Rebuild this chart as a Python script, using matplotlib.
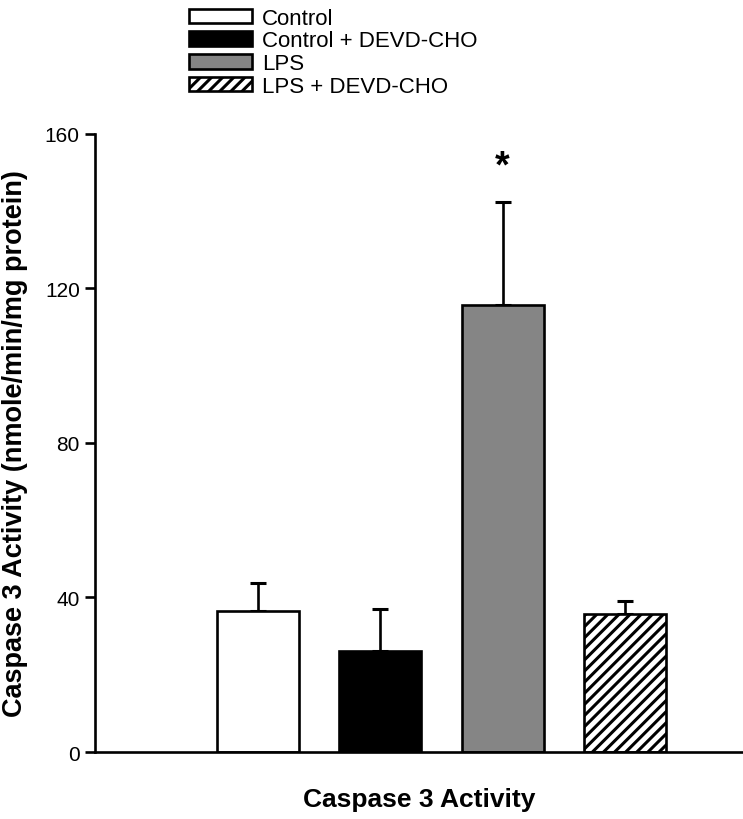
import matplotlib.pyplot as plt
import matplotlib.patches as mpatches

plt.rcParams['font.family'] = ['Liberation Sans', 'DejaVu Sans']
plt.rcParams['hatch.linewidth'] = 2.2

# dados
grupos = ["Control", "Control + DEVD-CHO", "LPS", "LPS + DEVD-CHO"]
medias = [36.6, 26.1, 115.6, 35.6]
erros = [7.2, 11.0, 26.9, 3.5]
cores = ["white", "black", "#858585", "white"]
hachuras = [None, None, None, "///"]
yticks = [0, 40, 80, 120, 160]

fig = plt.figure(figsize=(7.43, 8.2), dpi=100)
ax = fig.add_axes([0.128, 0.0817, 0.872, 0.7537])

x = list(range(len(grupos)))
barras = ax.bar(x, medias, width=0.67, color=cores, edgecolor="black",
                linewidth=1.9, zorder=2)
for b, h in zip(barras, hachuras):
    if h:
        b.set_hatch(h)

ax.errorbar(x, medias, yerr=[[0] * len(erros), erros], fmt="none",
            ecolor="black", elinewidth=1.9, capsize=5.5, capthick=2.2, zorder=1)

# asterisco sobre LPS
ax.text(2, medias[2] + erros[2] + 9, "*", ha="center", va="center",
        fontsize=27, fontweight="bold")

ax.set_xlim(-1.327, 3.963)
ax.set_ylim(0, 160)
ax.set_yticks(yticks)
ax.set_xticks([])
ax.tick_params(axis="y", direction="out", length=7, width=1.9, labelsize=15, pad=4)
for s in ["top", "right"]:
    ax.spines[s].set_visible(False)
ax.spines["left"].set_linewidth(1.9)
ax.spines["bottom"].set_linewidth(1.9)

ax.set_ylabel("Caspase 3 Activity (nmole/min/mg protein)", fontsize=19.5,
              fontweight="bold", labelpad=12)
ax.set_xlabel("Caspase 3 Activity", fontsize=19, fontweight="bold", labelpad=25)

handles = []
for c, h in zip(cores, hachuras):
    p = mpatches.Patch(facecolor=c, edgecolor="black", linewidth=1.9, hatch=h)
    handles.append(p)
fig.legend(handles, grupos, loc="upper left", bbox_to_anchor=(0.24, 1.003),
           frameon=False, fontsize=16, handlelength=2.8, handleheight=0.63,
           labelspacing=0.08, handletextpad=0.45, borderpad=0.0)

fig.savefig("out.png", dpi=100)
